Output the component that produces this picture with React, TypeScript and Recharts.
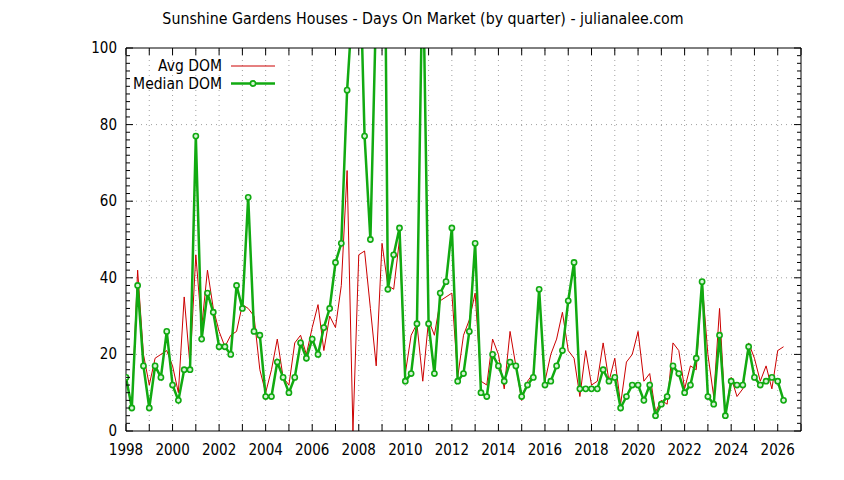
import React from "react";
import { Legend, Line, LineChart, ReferenceLine, XAxis, YAxis } from "recharts";

// quarterly series, first point = Q1 1998
const startYear = 1998;

const avgDom = [
  14, 6, 42, 20, // 1998
  12, 19, 20, 21, // 1999
  17, 10, 35, 17, // 2000
  46, 27, 42, 32, // 2001
  26, 22, 25, 26, // 2002
  33, 32, 30, 16, // 2003
  10, 16, 24, 14, // 2004
  12, 23, 25, 20, // 2005
  27, 33, 21, 30, // 2006
  27, 38, 68, 0, // 2007
  46, 47, 32, 17, // 2008
  49, 38, 37, 50, // 2009
  15, 25, 28, 13, // 2010
  29, 25, 34, 35, // 2011
  36, 14, 25, 29, // 2012
  36, 13, 12, 24, // 2013
  20, 11, 26, 17, // 2014
  8, 13, 15, 36, // 2015
  13, 20, 24, 31, // 2016
  21, 19, 9, 21, // 2017
  12, 13, 23, 13, // 2018
  19, 7, 18, 20, // 2019
  26, 13, 15, 5, // 2020
  8, 7, 23, 21, // 2021
  11, 17, 16, 39, // 2022
  20, 9, 32, 4, // 2023
  14, 9, 11, 23, // 2024
  19, 13, 17, 11, // 2025
  21, 22, // 2026
];

const medianDom = [
  14, 6, 38, 17, // 1998
  6, 17, 14, 26, // 1999
  12, 8, 16, 16, // 2000
  77, 24, 36, 31, // 2001
  22, 22, 20, 38, // 2002
  32, 61, 26, 25, // 2003
  9, 9, 18, 14, // 2004
  10, 14, 23, 19, // 2005
  24, 20, 27, 32, // 2006
  44, 49, 89, 113, // 2007
  134, 77, 50, 112, // 2008
  220, 37, 46, 53, // 2009
  13, 15, 28, 125, // 2010
  28, 15, 36, 39, // 2011
  53, 13, 15, 26, // 2012
  49, 10, 9, 20, // 2013
  17, 13, 18, 17, // 2014
  9, 12, 14, 37, // 2015
  12, 13, 17, 21, // 2016
  34, 44, 11, 11, // 2017
  11, 11, 16, 13, // 2018
  14, 6, 9, 12, // 2019
  12, 8, 12, 4, // 2020
  7, 9, 17, 15, // 2021
  10, 12, 19, 39, // 2022
  9, 7, 25, 4, // 2023
  13, 12, 12, 22, // 2024
  14, 12, 13, 14, // 2025
  13, 8, // 2026
];

const xLabelYears = [1998, 2000, 2002, 2004, 2006, 2008, 2010, 2012, 2014, 2016, 2018, 2020, 2022, 2024, 2026];
const yLabels = [0, 20, 40, 60, 80, 100];

const xTickYears = Array.from({ length: 30 }, (_, i) => startYear + i);
const yTickValues = Array.from({ length: 51 }, (_, i) => i * 2);

const data = avgDom.map((avg, i) => ({
  t: startYear + i / 4,
  avg,
  median: medianDom[i],
}));

const FONT = "'DejaVu Sans', sans-serif";
const TXT = { fontFamily: FONT, fontStretch: "condensed" } as const;
const RED = "#cc0000";
const GREEN = "#11aa11";
const GRID = "#a0a0a0";

const BottomTick = (props: any) => {
  const { x, y, payload } = props;
  const v = payload.value;
  return (
    <g>
      <line x1={x} y1={y} x2={x} y2={y - 7} stroke="#000" />
      {xLabelYears.includes(v) && (
        <text x={x} y={y + 24} textAnchor="middle" style={TXT} fontSize={15} fill="#000">
          {v}
        </text>
      )}
    </g>
  );
};

const TopTick = (props: any) => {
  const { x, y } = props;
  return <line x1={x} y1={y} x2={x} y2={y + 7} stroke="#000" />;
};

const LeftTick = (props: any) => {
  const { x, y, payload } = props;
  const v = payload.value;
  const major = v % 20 === 0;
  return (
    <g>
      <line x1={x} y1={y} x2={x + (major ? 7 : 4)} y2={y} stroke="#000" />
      {yLabels.includes(v) && (
        <text x={x - 9} y={y + 5} textAnchor="end" style={TXT} fontSize={15} fill="#000">
          {v}
        </text>
      )}
    </g>
  );
};

const RightTick = (props: any) => {
  const { x, y, payload } = props;
  const major = payload.value % 20 === 0;
  return <line x1={x} y1={y} x2={x - (major ? 7 : 4)} y2={y} stroke="#000" />;
};

const MedianDot = (props: any) => {
  const { cx, cy, index } = props;
  if (cx == null || cy == null) return <g key={index} />;
  return <circle key={index} cx={cx} cy={cy} r={2.6} stroke={GREEN} strokeWidth={1.6} fill="#d6f3d6" />;
};

const renderLegend = () => (
  <svg width={170} height={40} style={{ display: "block" }}>
    <text x={102} y={16} textAnchor="end" style={TXT} fontSize={15.5} fill="#000">
      Avg DOM
    </text>
    <line x1={111} y1={11} x2={155} y2={11} stroke={RED} strokeWidth={1} />
    <text x={102} y={33.5} textAnchor="end" style={TXT} fontSize={15.5} fill="#000">
      Median DOM
    </text>
    <line x1={111} y1={28.5} x2={155} y2={28.5} stroke={GREEN} strokeWidth={2.5} />
    <circle cx={133} cy={28.5} r={2.6} stroke={GREEN} strokeWidth={1.6} fill="#d6f3d6" />
  </svg>
);

export default function App() {
  return (
    <div style={{ position: "absolute", left: 0, top: 0, width: 844, height: 480, background: "#fff" }}>
      <div
        style={{
          position: "absolute",
          left: 0,
          top: 10,
          width: 846,
          textAlign: "center",
          fontFamily: FONT,
          fontStretch: "condensed",
          fontSize: 15.8,
          lineHeight: "18px",
          color: "#000",
          zIndex: 2,
        }}
      >
        Sunshine Gardens Houses - Days On Market (by quarter) - julianalee.com
      </div>
      <LineChart width={844} height={480} data={data} margin={{ top: 38, right: 33, bottom: 19, left: 66 }}>
        <XAxis
          xAxisId="b"
          dataKey="t"
          type="number"
          domain={[1998, 2027]}
          allowDataOverflow
          ticks={xTickYears}
          interval={0}
          height={30}
          tickSize={0}
          tickMargin={0}
          tick={<BottomTick />}
          tickLine={false}
          axisLine={{ stroke: "#000" }}
        />
        <XAxis
          xAxisId="top"
          orientation="top"
          dataKey="t"
          type="number"
          domain={[1998, 2027]}
          allowDataOverflow
          ticks={xTickYears}
          interval={0}
          height={10}
          tickSize={0}
          tickMargin={0}
          tick={<TopTick />}
          tickLine={false}
          axisLine={{ stroke: "#000" }}
        />
        <YAxis
          yAxisId="l"
          type="number"
          domain={[0, 100]}
          allowDataOverflow
          ticks={yTickValues}
          interval={0}
          width={60}
          tickSize={0}
          tickMargin={0}
          tick={<LeftTick />}
          tickLine={false}
          axisLine={{ stroke: "#000" }}
        />
        <YAxis
          yAxisId="r"
          orientation="right"
          type="number"
          domain={[0, 100]}
          allowDataOverflow
          ticks={yTickValues}
          interval={0}
          width={10}
          tickSize={0}
          tickMargin={0}
          tick={<RightTick />}
          tickLine={false}
          axisLine={{ stroke: "#000" }}
        />
        {xTickYears.slice(1, -1).map((yr) => (
          <ReferenceLine
            key={"vx" + yr}
            xAxisId="b"
            yAxisId="l"
            x={yr}
            stroke={GRID}
            strokeWidth={1}
            strokeDasharray="1 4"
          />
        ))}
        {yLabels.slice(1, -1).map((v) => (
          <ReferenceLine
            key={"hy" + v}
            xAxisId="b"
            yAxisId="l"
            y={v}
            stroke={GRID}
            strokeWidth={1}
            strokeDasharray="1 4"
          />
        ))}
        <Line
          xAxisId="b"
          yAxisId="l"
          type="linear"
          dataKey="avg"
          stroke={RED}
          strokeWidth={1}
          dot={false}
          isAnimationActive={false}
        />
        <Line
          xAxisId="b"
          yAxisId="l"
          type="linear"
          dataKey="median"
          stroke={GREEN}
          strokeWidth={2.5}
          dot={<MedianDot />}
          isAnimationActive={false}
        />
        <Legend
          layout="horizontal"
          verticalAlign="middle"
          align="center"
          content={renderLegend}
          wrapperStyle={{ left: 120, top: 55, width: 170, height: 40 }}
        />
      </LineChart>
    </div>
  );
}
